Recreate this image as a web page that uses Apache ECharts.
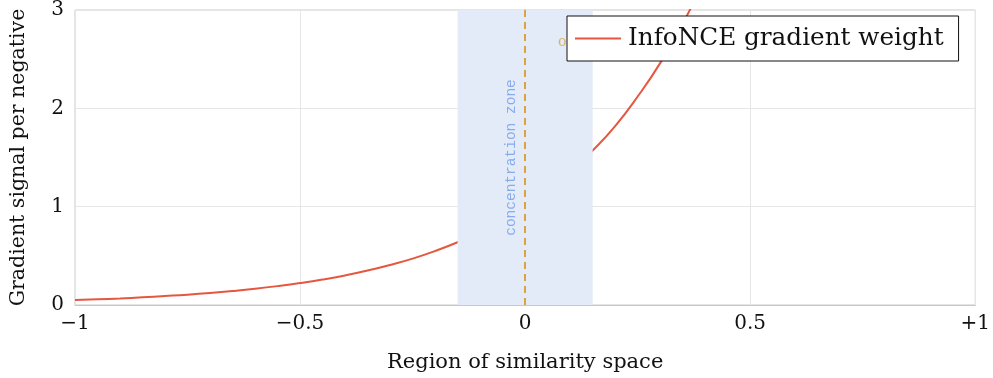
<!DOCTYPE html>
<html><head><meta charset="utf-8">
<script src="https://cdn.jsdelivr.net/npm/echarts@6/dist/echarts.min.js"></script>
<style>html,body{margin:0;padding:0;background:#fff}#c{width:993px;height:378px}</style>
</head><body><div id="c"></div>
<script>
const simX = [-1,-0.95,-0.9,-0.85,-0.8,-0.75,-0.7,-0.65,-0.6,-0.55,-0.5,-0.45,-0.4,-0.35,-0.3,-0.25,-0.2,-0.15,-0.1,-0.05,0,0.05,0.1,0.15,0.2,0.25,0.3,0.35,0.4];
const weight = [0.05,0.058,0.067,0.078,0.091,0.105,0.122,0.142,0.165,0.192,0.223,0.259,0.301,0.35,0.407,0.472,0.549,0.638,0.741,0.861,1.0,1.16,1.35,1.57,1.82,2.12,2.46,2.86,3.32];
const zone = [-0.15, 0.15];
const marker = 0;
const xTicks = [-1,-0.5,0,0.5,1];
const yTicks = [0,1,2,3];
const seriesName = 'InfoNCE gradient weight';
const zoneLabel = 'concentration zone';
const markerLabel = 'optimum';
const zoneLabelPos = [-0.03, 1.5];
const markerLabelPos = [0.073, 2.67];

const serif = 'DejaVu Serif';
const chart = echarts.init(document.getElementById('c'));
function fmtX(v){
  if (v === 0) return '0';
  if (v > 0) return (v === 1 ? '+1' : String(v));
  return '\u2212' + String(-v);
}
chart.setOption({
  animation: false,
  grid: {left: 73, right: 17, top: 10, bottom: 72, show: true, borderColor: '#c8c8c8', borderWidth: 1},
  legend: {
    left: 567, top: 16, padding: [10, 15, 10, 8],
    borderColor: '#111', borderWidth: 1, backgroundColor: '#fff',
    itemWidth: 46, itemHeight: 2, itemGap: 0, z: 20,
    textStyle: {fontFamily: serif, fontSize: 24.7, color: '#111', padding: [0, 0, 0, 2]},
    data: [{name: seriesName, icon: 'rect'}]
  },
  xAxis: {
    type: 'value', min: -1, max: 1, interval: 0.5,
    name: 'Region of similarity space', nameLocation: 'middle', nameGap: 47,
    nameTextStyle: {fontFamily: serif, fontSize: 21, color: '#111'},
    axisLine: {show: true, lineStyle: {color: '#c8c8c8'}},
    axisTick: {show: false},
    splitLine: {show: true, lineStyle: {color: '#e6e6e6'}},
    axisLabel: {fontFamily: serif, fontSize: 20, color: '#111', margin: 9, formatter: fmtX}
  },
  yAxis: {
    type: 'value', min: 0, max: 3, interval: 1,
    name: 'Gradient signal per negative', nameLocation: 'middle', nameGap: 46,
    nameTextStyle: {fontFamily: serif, fontSize: 20.5, color: '#111'},
    axisLine: {show: true, lineStyle: {color: '#c8c8c8'}},
    axisTick: {show: false},
    splitLine: {show: true, lineStyle: {color: '#e6e6e6'}},
    axisLabel: {fontFamily: serif, fontSize: 20, color: '#111', margin: 11,
      formatter: v => yTicks.includes(v) ? String(v) : ''}
  },
  series: [
    {
      name: seriesName, type: 'line', z: 2, symbol: 'none', smooth: true, clip: true,
      lineStyle: {color: '#e5573f', width: 2}, itemStyle: {color: '#e5573f'},
      data: simX.map((x, i) => [x, weight[i]])
    },
    {
      name: 'zone', type: 'line', z: 3, data: [], silent: true,
      markArea: {silent: true, z: 3, itemStyle: {color: '#e3ebf8', opacity: 1},
        data: [[{xAxis: zone[0]}, {xAxis: zone[1]}]]}
    },
    {
      name: 'marker', type: 'line', z: 4, data: [], silent: true,
      markLine: {silent: true, z: 4, symbol: ['none','none'], label: {show: false},
        lineStyle: {color: '#d9a441', type: [7, 5], width: 2},
        data: [{xAxis: marker}]}
    },
    {
      name: 'labels', type: 'scatter', z: 5, symbolSize: 0, silent: true,
      data: [
        {value: zoneLabelPos, label: {show: true, formatter: zoneLabel, rotate: 90, position: 'inside',
          fontFamily: 'Liberation Mono', fontSize: 14.5, color: '#6f9be8'}},
        {value: markerLabelPos, label: {show: true, formatter: markerLabel, position: 'right', distance: 0,
          fontFamily: serif, fontSize: 14, color: '#d9a441'}}
      ]
    }
  ]
});
</script></body></html>
